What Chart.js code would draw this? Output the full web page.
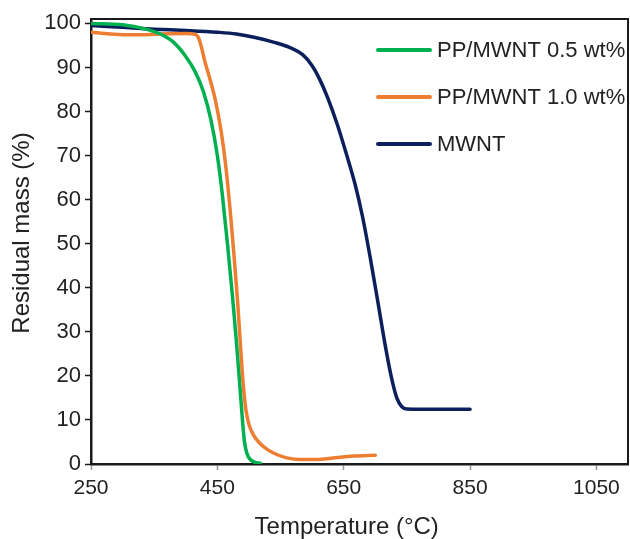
<!DOCTYPE html>
<html>
<head>
<meta charset="utf-8">
<script src="https://cdn.jsdelivr.net/npm/chart.js@4/dist/chart.umd.min.js"></script>
<style>
  html, body { margin: 0; padding: 0; background: #ffffff; }
  #wrap { width: 630px; height: 539px; position: relative; }
</style>
</head>
<body>
<div id="wrap"><canvas id="tga"></canvas></div>
<script>
// TGA curves: residual mass versus temperature
const seriesNames = ['PP/MWNT 0.5 wt%', 'PP/MWNT 1.0 wt%', 'MWNT'];
const seriesColors = ['#00B050', '#ED7D31', '#0A1F5C'];

const tempPP05 = [250, 300, 340, 360, 380, 400, 415, 428, 440, 450, 458, 466, 474, 480, 486, 490, 493, 497, 503, 512, 518];
const massPP05 = [100, 99.7, 98.6, 97.6, 95.8, 92.5, 89, 84.5, 78, 70, 61, 50, 38, 28, 17, 9.5, 5, 2.3, 0.9, 0.3, 0.2];

const tempPP10 = [250, 280, 320, 360, 400, 415, 420, 425, 430, 437, 447, 456, 463, 470, 476, 482, 487, 491, 495, 500, 507, 518, 530, 545, 560, 580, 600, 630, 665, 700];
const massPP10 = [98, 97.6, 97.4, 97.6, 97.7, 97.5, 96.8, 94.5, 91.5, 88, 82.5, 75.5, 68, 58, 48, 37, 26, 18, 12.5, 9, 6.6, 4.6, 3.2, 2.1, 1.4, 1.0, 1.0, 1.3, 1.8, 2.0];

const tempMWNT = [250, 300, 350, 400, 450, 480, 510, 540, 565, 585, 600, 612, 625, 640, 655, 668, 680, 693, 705, 715, 725, 734, 742, 750, 800, 850];
const massMWNT = [99.5, 99.1, 98.7, 98.4, 98.0, 97.6, 96.8, 95.7, 94.5, 92.9, 90.4, 87.3, 83, 77, 70, 63.5, 56, 46, 36, 27.5, 20, 15, 13, 12.5, 12.4, 12.4];

const xTickValues = [250, 450, 650, 850, 1050];
const yTickValues = [0, 10, 20, 30, 40, 50, 60, 70, 80, 90, 100];
const xTitle = 'Temperature (°C)';
const yTitle = 'Residual mass (%)';

const FONT = '"Liberation Sans", Arial, Helvetica, sans-serif';
const TEXT = '#222222';

function toPoints(xs, ys) {
  return xs.map((x, i) => ({ x: x, y: ys[i] }));
}

const curves = [
  toPoints(tempPP05, massPP05),
  toPoints(tempPP10, massPP10),
  toPoints(tempMWNT, massMWNT)
];

// Frame round the plot area plus the in-plot legend and axis titles
const decorations = {
  id: 'decorations',
  afterDatasetsDraw(chart) {
    const { ctx, chartArea: a } = chart;
    ctx.save();
    ctx.strokeStyle = '#1a1a1a';
    ctx.lineWidth = 2;
    ctx.beginPath();
    ctx.moveTo(a.left, a.top);
    ctx.lineTo(a.right, a.top);
    ctx.lineTo(a.right, a.bottom);
    ctx.stroke();
    ctx.restore();
  },
  afterDraw(chart) {
    const { ctx, scales } = chart;
    ctx.save();
    // legend
    ctx.font = '22px ' + FONT;
    ctx.textBaseline = 'middle';
    ctx.textAlign = 'left';
    const rows = [50, 97, 144];
    chart.data.datasets.forEach((ds, i) => {
      const y = rows[i];
      ctx.strokeStyle = ds.borderColor;
      ctx.lineWidth = 4;
      ctx.lineCap = 'round';
      ctx.beginPath();
      ctx.moveTo(378, y);
      ctx.lineTo(430, y);
      ctx.stroke();
      ctx.fillStyle = TEXT;
      ctx.fillText(ds.label, 437, y + 1);
    });
    // x axis title, centred under the labelled tick range
    const xs = scales.x;
    const cx = (xs.getPixelForValue(xTickValues[0]) + xs.getPixelForValue(xTickValues[xTickValues.length - 1])) / 2;
    ctx.font = '24px ' + FONT;
    ctx.textAlign = 'center';
    ctx.fillText(xTitle, cx + 3, 527);
    // y axis title
    ctx.translate(22, 233);
    ctx.rotate(-Math.PI / 2);
    ctx.font = '24px ' + FONT;
    ctx.fillText(yTitle, 0, 0);
    ctx.restore();
  }
};

new Chart(document.getElementById('tga'), {
  type: 'line',
  data: {
    datasets: curves.map((pts, i) => ({
      label: seriesNames[i],
      data: pts,
      borderColor: seriesColors[i],
      backgroundColor: seriesColors[i],
      borderWidth: 3.5,
      pointRadius: 0,
      fill: false,
      cubicInterpolationMode: 'monotone',
      borderCapStyle: 'round',
      borderJoinStyle: 'round'
    }))
  },
  options: {
    responsive: true,
    maintainAspectRatio: false,
    animation: false,
    layout: { padding: { top: 19, right: 2, left: 0, bottom: 0 } },
    plugins: {
      legend: { display: false },
      tooltip: { enabled: false }
    },
    scales: {
      x: {
        type: 'linear',
        min: 250,
        max: 1100,
        afterBuildTicks(scale) { scale.ticks = xTickValues.map(v => ({ value: v })); },
        afterFit(scale) { scale.height = 75; },
        grid: { drawOnChartArea: false, drawTicks: true, tickLength: 6, tickColor: '#999999', tickWidth: 1.5 },
        border: { display: true, color: '#1a1a1a', width: 2.5 },
        ticks: { color: TEXT, font: { family: FONT, size: 21 }, padding: 6, maxRotation: 0, callback: v => String(v) }
      },
      y: {
        type: 'linear',
        min: 0,
        max: 101,
        afterBuildTicks(scale) { scale.ticks = yTickValues.map(v => ({ value: v })); },
        afterFit(scale) { scale.width = 91; },
        grid: { drawOnChartArea: false, drawTicks: true, tickLength: 6, tickColor: '#1a1a1a', tickWidth: 1.5 },
        border: { display: true, color: '#1a1a1a', width: 2.5 },
        ticks: { color: TEXT, font: { family: FONT, size: 22 }, padding: 4, callback: v => String(v) }
      }
    }
  },
  plugins: [decorations]
});
</script>
</body>
</html>
